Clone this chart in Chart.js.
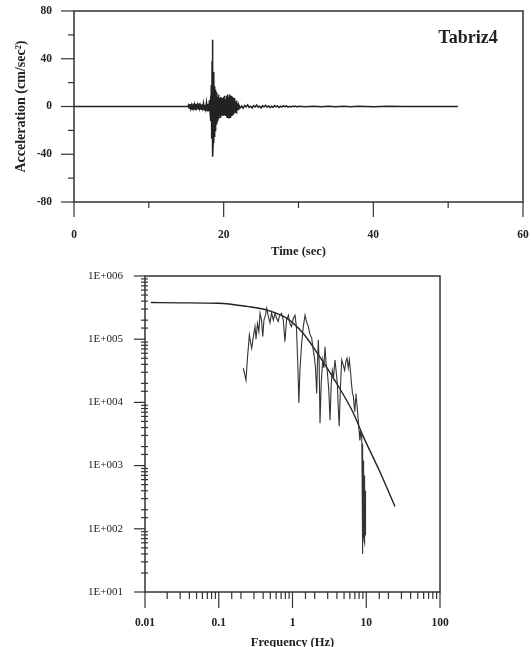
<!DOCTYPE html>
<html>
<head>
<meta charset="utf-8">
<script src="https://cdn.jsdelivr.net/npm/chart.js@4.4.1/dist/chart.umd.min.js"></script>
<style>
  html, body { margin:0; padding:0; background:#fff; overflow:hidden; }
  body { width:532px; height:647px; position:relative; }
  canvas { position:absolute; left:0; }
  #accel { top:0; }
  #spectre { top:250px; }
</style>
</head>
<body>
<canvas id="accel" width="532" height="262"></canvas>
<canvas id="spectre" width="532" height="400"></canvas>
<script>
const station = "Tabriz4";

// --- accelerogramme
const timeTicks = [0, 20, 40, 60];
const accTicks = [-80, -40, 0, 40, 80];
const times = [0, 3, 6, 9, 12, 15.2,
  15.3, 15.4, 15.5, 15.6, 15.7, 15.8, 15.9, 16.0, 16.1, 16.2, 16.3, 16.4, 16.5, 16.6, 16.7, 16.8, 16.9,
  17.0, 17.1, 17.2, 17.3, 17.4, 17.5, 17.6, 17.7, 17.8, 17.9, 18.0, 18.1, 18.2,
  18.25, 18.3, 18.35, 18.4, 18.45, 18.5, 18.55, 18.6, 18.65, 18.7, 18.75, 18.8, 18.85, 18.9, 18.95,
  19.0, 19.05, 19.1, 19.15, 19.2, 19.25, 19.3, 19.35, 19.4, 19.45, 19.5, 19.55, 19.6, 19.65, 19.7, 19.75, 19.8, 19.85, 19.9, 19.95,
  20.0, 20.05, 20.1, 20.15, 20.2, 20.25, 20.3, 20.35, 20.4, 20.45, 20.5, 20.55, 20.6, 20.65, 20.7, 20.75, 20.8, 20.85, 20.9, 20.95,
  21.0, 21.05, 21.1, 21.15, 21.2, 21.25, 21.3, 21.35, 21.4, 21.45, 21.5, 21.55, 21.6, 21.65, 21.7, 21.75, 21.8, 21.85, 21.9, 21.95,
  22.0, 22.2, 22.4, 22.6, 22.8, 23.0, 23.2, 23.4, 23.6, 23.8, 24.0, 24.2, 24.4, 24.6, 24.8,
  25.0, 25.2, 25.4, 25.6, 25.8, 26.0, 26.2, 26.4, 26.6, 26.8, 27.0, 27.2, 27.4, 27.6, 27.8,
  28.0, 28.2, 28.4, 28.6, 28.8, 29.0, 29.2, 29.4, 29.6, 29.8, 30.0,
  31, 32, 33, 34, 35, 36, 37, 38, 40, 42, 44, 46, 48, 50, 51.3];
const accel = [0, 0.1, -0.1, 0.1, -0.1, 0,
  1.2, -1.5, 2.0, -1.8, 1.0, -2.2, 2.5, -1.2, 1.6, -2.6, 2.2, -1.0, 1.4, -2.0, 2.8, -1.6, 0.8,
  -2.4, 1.9, -1.2, 2.6, -2.9, 1.5, -1.8, 3.2, -3.5, 2.4, -4.0, 5.5, -6.5,
  9, -12, 18, -27, 38, 56, -42, -30, 22, 29, -25, 17, -20, 14, -18,
  12, -15, 9, -12, 8, -10, 10, -9, 7, -8, 6, -9, 8, -7, 5, -6, 7, -8, 6, -5,
  8, -7, 9, -6, 4, -8, 6, -5, 9, -9, 10, -7, 8, -10, 6, -8, 10, -9, 7, -6,
  9, -8, 5, -7, 8, -6, 4, -5, 7, -4, 3, -5, 4, -3, 5, -4, 2.5, -3, 2, -2.5,
  1.6, -1.2, 0.4, -1.5, 0.9, -0.3, 1.4, -0.8, 0.2, -1.2, 0.7, -0.4, 1.2, -0.6, 0.3,
  -1.1, 0.6, -0.2, 1.0, -0.5, 0.4, -0.9, 0.2, -0.6, 0.8, -0.2, 0.5, -0.8, 0.3, -0.4,
  0.7, -0.2, 0.5, -0.5, 0.2, -0.4, 0.4, -0.2, 0.4, -0.3, 0.2,
  -0.3, 0.3, -0.2, 0.3, -0.3, 0.2, -0.2, 0.2, -0.2, 0.2, -0.1, 0.1, -0.1, 0.1, 0];

// --- spectre de Fourier
const freqTicks = [0.01, 0.1, 1, 10, 100];
const ampTicks = [10, 100, 1000, 10000, 100000, 1000000];
const freqObs = [0.215, 0.225, 0.234, 0.245, 0.26, 0.27, 0.28, 0.295, 0.31, 0.32, 0.335, 0.35, 0.363, 0.38, 0.395,
  0.41, 0.43, 0.447, 0.47, 0.495, 0.52, 0.55, 0.58, 0.61, 0.64, 0.67, 0.71, 0.75, 0.79, 0.83, 0.88, 0.92, 0.97,
  1.02, 1.08, 1.13, 1.18, 1.22, 1.26, 1.33, 1.4, 1.48, 1.55, 1.64, 1.72, 1.82, 1.9, 1.98, 2.05, 2.13, 2.18, 2.24,
  2.3, 2.36, 2.45, 2.57, 2.66, 2.76, 2.86, 2.96, 3.1, 3.23, 3.35, 3.47, 3.6, 3.77, 3.9, 4.05, 4.18, 4.3, 4.45,
  4.65, 4.85, 5.1, 5.3, 5.5, 5.7, 5.9, 6.1, 6.3, 6.5, 6.7, 6.85, 7.0, 7.15, 7.25, 7.5, 7.8, 8.0, 8.2, 8.45, 8.7,
  8.78, 8.85, 8.92, 8.95, 9.0, 9.05, 9.1, 9.15, 9.2, 9.25, 9.3, 9.35, 9.4, 9.45, 9.5, 9.55, 9.6, 9.65, 9.7, 9.75, 9.8, 9.85];
const ampObs = [34700, 28000, 22400, 50000, 117000, 89000, 72000, 112000, 158000, 100000, 178000, 132000, 257000, 200000, 110000,
  200000, 240000, 309000, 229000, 182000, 263000, 200000, 257000, 214000, 190000, 240000, 257000, 200000, 91000, 200000, 240000, 178000, 158000,
  209000, 240000, 158000, 40000, 9800, 31600, 85000, 158000, 240000, 190000, 158000, 120000, 105000, 71000, 52000, 35000, 13800, 40000, 98000,
  40000, 4700, 20000, 47000, 35000, 76000, 40000, 32000, 16000, 5200, 20000, 32000, 25000, 47000, 32000, 20000, 8000, 4200, 16000,
  47000, 40000, 32000, 45000, 50000, 35000, 47000, 32000, 20000, 14000, 12300, 8900, 7100, 11200, 13800, 8900, 5200, 3500, 2500, 3200, 2900,
  800, 2200, 150, 40, 1500, 120, 1200, 80, 1000, 70, 900, 65, 700, 60, 600, 70, 500, 80, 400, 90, 300, 100];
const freqModel = [0.012, 0.03, 0.1, 0.24, 0.45, 0.83, 1.4, 2.36, 3.97, 6.68, 9.1, 15.3, 24.5];
const ampModel = [380000, 376000, 370000, 330000, 290000, 215000, 123000, 52000, 20000, 6800, 2900, 800, 225];

const INK = '#333';
const SERIF = '"Liberation Serif", "Times New Roman", serif';

function isDecade(v) {
  const l = Math.log10(v);
  return Math.abs(l - Math.round(l)) < 1e-6;
}

function expLabel(v) {
  const e = Math.round(Math.log10(v));
  return '1E+' + String(e).padStart(3, '0');
}

// cadre + graduations (longues / courtes), dessinees a partir des echelles
function faireCadre(axes, etiquette) {
  return {
    id: 'cadre',
    afterDraw(chart) {
      const ctx = chart.ctx, a = chart.chartArea;
      ctx.save();
      ctx.strokeStyle = INK;
      ctx.lineWidth = 1.5;
      ctx.strokeRect(a.left, a.top, a.right - a.left, a.bottom - a.top);
      ctx.lineWidth = 1.2;
      axes.forEach(ax => {
        const s = chart.scales[ax.id];
        s.ticks.forEach(t => {
          const p = s.getPixelForValue(t.value);
          const major = ax.major(t.value);
          const len = major ? ax.long : ax.short;
          const inner = major ? 0 : (ax.inner || 0);
          ctx.beginPath();
          if (s.isHorizontal()) {
            ctx.moveTo(p, a.bottom - inner);
            ctx.lineTo(p, a.bottom + len);
          } else {
            ctx.moveTo(a.left + inner, p);
            ctx.lineTo(a.left - len, p);
          }
          ctx.stroke();
        });
      });
      if (etiquette) {
        ctx.fillStyle = '#222';
        ctx.font = 'bold 18px ' + SERIF;
        ctx.textAlign = 'center';
        ctx.textBaseline = 'middle';
        ctx.fillText(etiquette, a.right - 55, a.top + 27);
      }
      ctx.restore();
    }
  };
}

// le padding des etiquettes ne doit pas retrecir la zone du graphique
function sansMarge(s) {
  s.paddingLeft = 0;
  s.paddingRight = 0;
  s.paddingTop = 0;
  s.paddingBottom = 0;
}

const tickFont = { family: SERIF, size: 11.5, weight: 'bold' };
const titleFont = { family: SERIF, size: 12.5, weight: 'bold' };

new Chart(document.getElementById('accel'), {
  type: 'line',
  data: {
    datasets: [{
      data: times.map((t, i) => ({ x: t, y: accel[i] })),
      borderColor: '#222',
      borderWidth: 1.5,
      pointRadius: 0,
      tension: 0
    }]
  },
  options: {
    responsive: false,
    animation: false,
    layout: { padding: { left: 8, right: 9, top: 11, bottom: 0 } },
    plugins: { legend: { display: false }, tooltip: { enabled: false } },
    scales: {
      x: {
        type: 'linear', min: 0, max: 60,
        afterFit: s => { s.height = 60; sansMarge(s); },
        grid: { display: false, drawTicks: false },
        border: { display: false },
        ticks: {
          stepSize: 10, autoSkip: false, maxRotation: 0, padding: 26, color: '#222', font: tickFont,
          callback: v => timeTicks.includes(v) ? String(v) : ''
        },
        title: { display: true, text: 'Time (sec)', color: '#222', font: titleFont, padding: { top: 0, bottom: 3 } }
      },
      y: {
        type: 'linear', min: -80, max: 80,
        afterFit: s => { s.width = 66; sansMarge(s); },
        grid: { display: false, drawTicks: false },
        border: { display: false },
        ticks: {
          stepSize: 20, autoSkip: false, padding: 22, color: '#222', font: tickFont,
          callback: v => accTicks.includes(v) ? String(v) : ''
        },
        title: { display: true, text: 'Acceleration (cm/sec²)', color: '#222', font: { family: SERIF, size: 14, weight: 'bold' }, padding: { top: 5, bottom: 0 } }
      }
    }
  },
  plugins: [faireCadre([
    { id: 'x', major: v => v % 20 === 0, long: 15, short: 6 },
    { id: 'y', major: v => v % 40 === 0, long: 13, short: 6 }
  ], station)]
});

new Chart(document.getElementById('spectre'), {
  type: 'line',
  data: {
    datasets: [{
      data: freqObs.map((f, i) => ({ x: f, y: ampObs[i] })),
      borderColor: '#333',
      borderWidth: 1.1,
      pointRadius: 0,
      tension: 0
    }, {
      data: freqModel.map((f, i) => ({ x: f, y: ampModel[i] })),
      borderColor: '#222',
      borderWidth: 1.4,
      pointRadius: 0,
      cubicInterpolationMode: 'monotone'
    }]
  },
  options: {
    responsive: false,
    animation: false,
    layout: { padding: { left: 8, right: 92, top: 26, bottom: 0 } },
    plugins: { legend: { display: false }, tooltip: { enabled: false } },
    scales: {
      x: {
        type: 'logarithmic', min: 0.01, max: 100,
        afterFit: s => { s.height = 58; sansMarge(s); },
        grid: { display: false, drawTicks: false },
        border: { display: false },
        ticks: {
          autoSkip: false, maxRotation: 0, padding: 24, color: '#222', font: tickFont,
          callback: v => freqTicks.some(f => Math.abs(f - v) < f * 1e-6) ? String(v) : ''
        },
        title: { display: true, text: 'Frequency (Hz)', color: '#222', font: titleFont, padding: { top: 0, bottom: 0 } }
      },
      y: {
        type: 'logarithmic', min: 10, max: 1000000,
        afterFit: s => { s.width = 137; sansMarge(s); },
        grid: { display: false, drawTicks: false },
        border: { display: false },
        ticks: {
          autoSkip: false, padding: 22, color: '#222', font: { family: SERIF, size: 11 },
          callback: v => ampTicks.some(a => Math.abs(a - v) < a * 1e-6) ? expLabel(v) : ''
        }
      }
    }
  },
  plugins: [faireCadre([
    { id: 'x', major: isDecade, long: 16, short: 7 },
    { id: 'y', major: isDecade, long: 11, short: 4, inner: 3 }
  ], null)]
});
</script>
</body>
</html>
